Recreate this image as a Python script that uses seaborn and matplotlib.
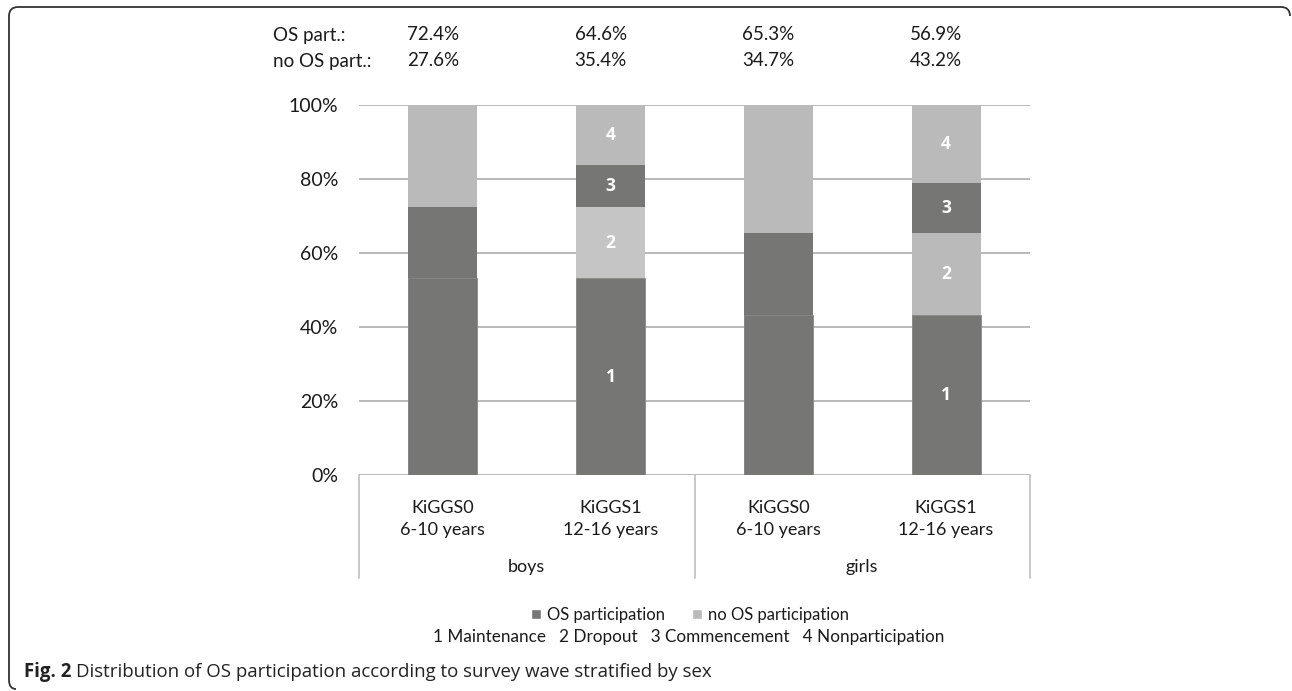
import numpy as np
import pandas as pd
import matplotlib
matplotlib.use("Agg")
import matplotlib.pyplot as plt
import seaborn as sns
from matplotlib.patches import Patch, PathPatch
from matplotlib.path import Path
from matplotlib.transforms import blended_transform_factory, offset_copy

# data
bars = ["boys_k0", "boys_k1", "girls_k0", "girls_k1"]
tick_labels = ["KiGGS0\n6-10 years", "KiGGS1\n12-16 years", "KiGGS0\n6-10 years", "KiGGS1\n12-16 years"]
groups = ["boys", "girls"]
wave = ["k0", "k1", "k0", "k1"]
maintenance = [53.2, 53.2, 43.2, 43.2]
dropout = [19.2, 19.2, 22.1, 22.1]
commencement = [11.4, 11.4, 13.7, 13.7]
nonparticipation = [16.2, 16.2, 21.0, 21.0]
os_part = [72.4, 64.6, 65.3, 56.9]
no_os_part = [27.6, 35.4, 34.7, 43.2]

dark = "#767674"
light = "#bababa"
light2 = "#c4c5c4"

df = pd.DataFrame({"bar": bars, "wave": wave, "m": maintenance, "d": dropout,
                   "c": commencement, "n": nonparticipation})
df["cum1"] = df["m"]
df["cum2"] = df["m"] + df["d"]
df["cum3"] = df["cum2"] + df["c"]
df["cum4"] = df["cum3"] + df["n"]

# segment colours: KiGGS0 shows only participation at that wave
seg_colors = {
    "cum4": {b: light for b in bars},
    "cum3": {"boys_k0": light, "boys_k1": dark, "girls_k0": light, "girls_k1": dark},
    "cum2": {"boys_k0": dark, "boys_k1": light2, "girls_k0": dark, "girls_k1": light},
    "cum1": {b: dark for b in bars},
}

sns.set_style("white")
plt.rcParams["font.family"] = ["Lato", "DejaVu Sans"]
txt = "#1a1a1a"

fig = plt.figure(figsize=(12.92, 6.91), dpi=100)
ax = fig.add_axes([359 / 1292, 1 - 475 / 691, 671 / 1292, 370 / 691])

for col in ["cum4", "cum3", "cum2", "cum1"]:
    ec = "#8a8a88" if col == "cum1" else "none"
    sns.barplot(data=df, x="bar", y=col, hue="bar", palette=seg_colors[col], order=bars,
                legend=False, width=0.41, saturation=1, ax=ax, edgecolor=ec, linewidth=0.6,
                zorder=3)

ax.set_ylim(0, 100)
ax.set_xlim(-0.5, 3.5)
ax.set_yticks(np.arange(0, 101, 20))
ax.set_yticklabels([f"{v}%" for v in range(0, 101, 20)], fontsize=14, color=txt)
ax.yaxis.grid(True, color="#b3b3b3", linewidth=1.3, zorder=0)
ax.set_axisbelow(True)
ax.set_xticks(range(4))
ax.set_xticklabels(tick_labels, fontsize=13, color=txt, linespacing=1.45)
ax.tick_params(axis="y", length=0, pad=15)
ax.tick_params(axis="x", length=0, pad=18)
ax.set_xlabel("")
ax.set_ylabel("")
for s in ax.spines.values():
    s.set_visible(False)

# segment numbers on KiGGS1 bars
for i, row in df.iterrows():
    if row["wave"] != "k1":
        continue
    lows = [0, row["cum1"], row["cum2"], row["cum3"]]
    highs = [row["cum1"], row["cum2"], row["cum3"], row["cum4"]]
    for k, (lo, hi) in enumerate(zip(lows, highs)):
        ax.text(i, (lo + hi) / 2, str(k + 1), ha="center", va="center", color="white",
                fontsize=12.5, fontweight="bold", family=["Open Sans", "DejaVu Sans"], zorder=5)

# group separators and labels below the axis
xt = ax.get_xaxis_transform()
for xv in [-0.5, 1.5, 3.5]:
    ax.plot([xv, xv], [0, -103 / 370], color="#bfbfbf", lw=1.2, transform=xt, clip_on=False)
for g, xc in zip(groups, [0.5, 2.5]):
    ax.text(xc, -92 / 370, g, ha="center", va="center", fontsize=13, color=txt, transform=xt)

# percentages above the chart (slightly left of the bar centres, as in the original)
bt = offset_copy(blended_transform_factory(ax.transData, fig.transFigure), fig=fig,
                 x=-10, y=0, units="dots")
fig.text(273 / 1292, 1 - 35 / 691, "OS part.:", ha="left", va="center", fontsize=13.5, color=txt)
fig.text(273 / 1292, 1 - 61 / 691, "no OS part.:", ha="left", va="center", fontsize=13.5, color=txt)
for i in range(4):
    ax.text(i, 1 - 35 / 691, f"{os_part[i]:.1f}%", ha="center", va="center", fontsize=13.5,
            color=txt, transform=bt)
    ax.text(i, 1 - 61 / 691, f"{no_os_part[i]:.1f}%", ha="center", va="center", fontsize=13.5,
            color=txt, transform=bt)

# legend
handles = [Patch(facecolor=dark, label="OS participation"),
           Patch(facecolor=light, label="no OS participation")]
fig.legend(handles=handles, loc="center", bbox_to_anchor=(690 / 1292, 1 - 615 / 691), ncol=2,
           frameon=False, fontsize=12, handlelength=0.6, handleheight=0.6, handletextpad=0.35,
           columnspacing=1.6, labelcolor=txt)
fig.text(689 / 1292, 1 - 637 / 691, "1 Maintenance   2 Dropout   3 Commencement   4 Nonparticipation",
         ha="center", va="center", fontsize=12.3, color=txt)

# caption
cap1 = fig.text(24 / 1292, 1 - 672 / 691, "Fig. 2", ha="left", va="center", fontsize=13.4,
                fontweight="bold", color="#222222", family=["Open Sans", "DejaVu Sans"])
fig.canvas.draw()
bb = cap1.get_window_extent()
fig.text((bb.x1 + 5) / 1292, 1 - 672 / 691,
         "Distribution of OS participation according to survey wave stratified by sex",
         ha="left", va="center", fontsize=13.4, color="#222222", family=["Open Sans", "DejaVu Sans"])

# frame of the figure box (top and left edges with rounded corners)
pts = [(1290, 16), (1290, 7), (1281, 7), (18, 7), (9, 7), (9, 16), (9, 680), (9, 689), (16, 689)]
codes = [Path.MOVETO, Path.CURVE3, Path.CURVE3, Path.LINETO, Path.CURVE3, Path.CURVE3,
         Path.LINETO, Path.CURVE3, Path.CURVE3]
pts = [(x / 1292, 1 - y / 691) for x, y in pts]
fig.patches.append(PathPatch(Path(pts, codes), facecolor="none", edgecolor="#333333", lw=1.3,
                             transform=fig.transFigure))

fig.savefig("out.png", dpi=100)
